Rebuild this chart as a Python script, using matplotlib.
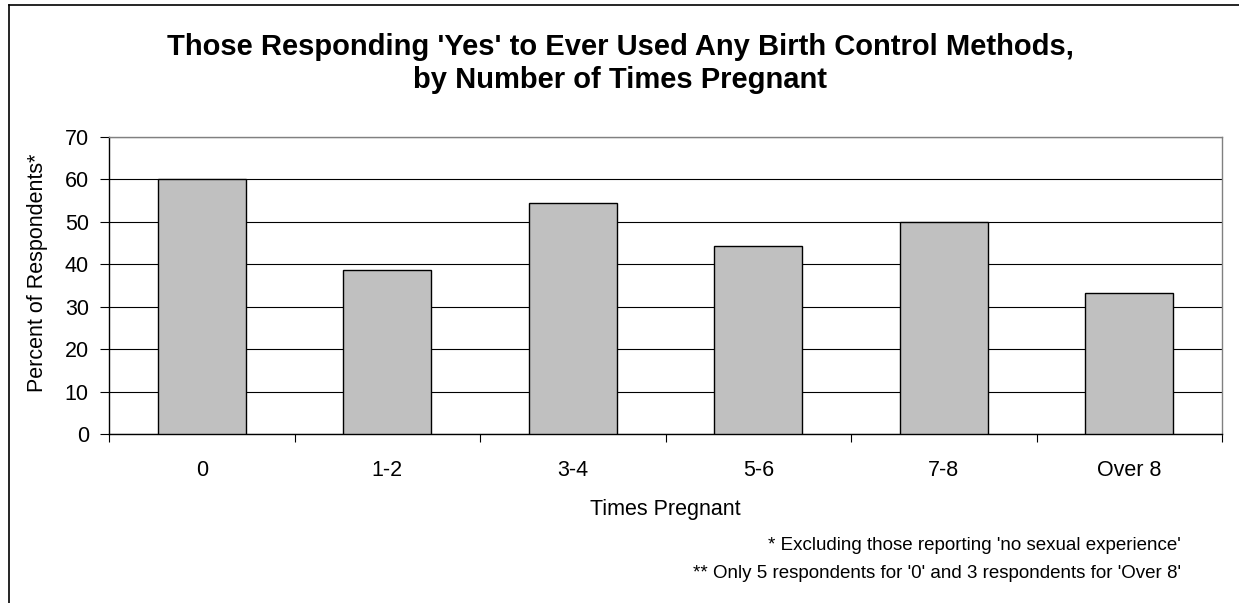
import matplotlib
matplotlib.use("Agg")
import matplotlib.pyplot as plt
from matplotlib.lines import Line2D
import numpy as np

categories = ["0", "1-2", "3-4", "5-6", "7-8", "Over 8"]
values = [60, 38.6, 54.5, 44.2, 50, 33.3]
yticks = [0, 10, 20, 30, 40, 50, 60, 70]

title_lines = ["Those Responding 'Yes' to Ever Used Any Birth Control Methods,",
               "by Number of Times Pregnant"]
xlabel = "Times Pregnant"
ylabel = "Percent of Respondents*"
notes = ["* Excluding those reporting 'no sexual experience'",
         "** Only 5 respondents for '0' and 3 respondents for 'Over 8'"]

plt.rcParams['font.family'] = ['Liberation Sans', 'DejaVu Sans']

W, H = 1239, 603
fig = plt.figure(figsize=(W / 100, H / 100), dpi=100)

# outer frame (left and top)
fig.add_artist(Line2D([9 / W, 9 / W], [0, 1 - 5 / H], transform=fig.transFigure, color='black', lw=1.2))
fig.add_artist(Line2D([9 / W, 1], [1 - 5 / H, 1 - 5 / H], transform=fig.transFigure, color='black', lw=1.2))

x0, x1, ytop, ybot = 109, 1222, 137, 434
ax = fig.add_axes([x0 / W, (H - ybot) / H, (x1 - x0) / W, (ybot - ytop) / H])

x = np.arange(len(categories))
ax.bar(x, values, width=0.476, color='#C0C0C0', edgecolor='black', linewidth=1.0, zorder=3)

ax.set_xlim(-0.5, len(categories) - 0.5)
ax.set_ylim(0, 70)
ax.set_yticks(yticks)
ax.yaxis.grid(True, color='black', lw=0.8, zorder=0)
ax.set_axisbelow(True)

ax.set_xticks(np.arange(-0.5, len(categories), 1.0))
ax.set_xticklabels([])
ax.set_xticks(x, minor=True)
ax.set_xticklabels(categories, minor=True, fontsize=15.5)
ax.tick_params(axis='x', which='major', direction='out', length=6, width=0.8, color='black')
ax.tick_params(axis='x', which='minor', length=0, pad=19)
ax.tick_params(axis='y', direction='out', length=6.5, width=0.8, labelsize=15.5, pad=8)

for s in ['left', 'bottom']:
    ax.spines[s].set_color('black')
    ax.spines[s].set_linewidth(1.0)
for s in ['top', 'right']:
    ax.spines[s].set_color('#808080')
    ax.spines[s].set_linewidth(1.0)

ax.set_xlabel(xlabel, fontsize=15.5)
ax.xaxis.set_label_coords(0.5, -(509 - ybot) / (ybot - ytop), transform=ax.transAxes)
ax.set_ylabel(ylabel, fontsize=15.5)
ax.yaxis.set_label_coords((38 - x0) / (x1 - x0), (ybot - 273) / (ybot - ytop))
ax.yaxis.label.set_va('center')
ax.xaxis.label.set_va('center')

fig.text(620 / W, 1 - 55 / H, title_lines[0], ha='center', va='baseline', fontsize=21,
         fontweight='bold')
fig.text(620 / W, 1 - 88 / H, title_lines[1], ha='center', va='baseline', fontsize=21,
         fontweight='bold')

fig.text(1181 / W, 1 - 545 / H, notes[0], ha='right', va='center', fontsize=13.5)
fig.text(1181 / W, 1 - 573 / H, notes[1], ha='right', va='center', fontsize=13.5)

fig.savefig("out.png", dpi=100, facecolor='white')
